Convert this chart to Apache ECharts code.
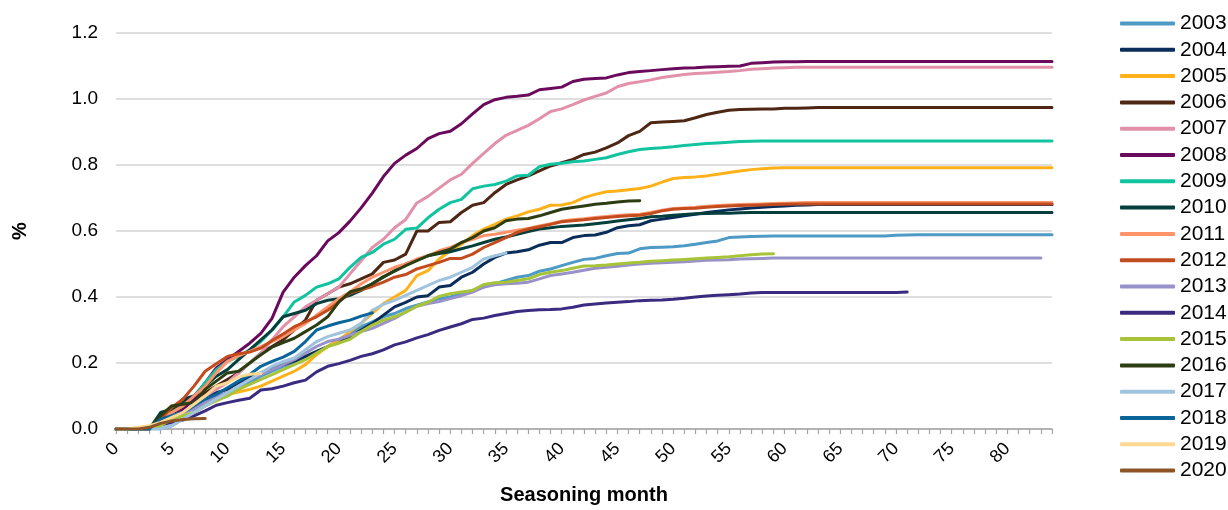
<!DOCTYPE html>
<html>
<head>
<meta charset="utf-8">
<script src="https://cdn.jsdelivr.net/npm/echarts@6/dist/echarts.min.js"></script>
<style>
html,body{margin:0;padding:0;background:#fff;}
#chart{width:1228px;height:510px;}
</style>
</head>
<body>
<div id="chart"></div>
<script>
var months = [0,1,2,3,4,5,6,7,8,9,10,11,12,13,14,15,16,17,18,19,20,21,22,23,24,25,26,27,28,29,30,31,32,33,34,35,36,37,38,39,40,41,42,43,44,45,46,47,48,49,50,51,52,53,54,55,56,57,58,59,60,61,62,63,64,65,66,67,68,69,70,71,72,73,74,75,76,77,78,79,80,81,82,83,84];
var yTicks = [0,0.2,0.4,0.6,0.8,1.0,1.2];
var years = ['2003','2004','2005','2006','2007','2008','2009','2010','2011','2012','2013','2014','2015','2016','2017','2018','2019','2020'];
var colors = ['#4E9AC6','#0A2D5A','#FFB119','#4D2614','#E191AA','#6A0A5C','#12C3A0','#053F3C','#FF936A','#C24C1E','#9891CA','#3A2A80','#A7C439','#2C3D12','#A0C4DE','#09659A','#FFD994','#8C5427'];

var v2003 = [0,0,0,0,0,0.01,0.03,0.05,0.07,0.09,
0.1,0.12,0.14,0.16,0.175,0.19,0.2,0.215,0.23,0.25,
0.27,0.29,0.31,0.325,0.34,0.35,0.365,0.375,0.385,0.395,
0.4,0.41,0.42,0.43,0.44,0.45,0.46,0.465,0.478,0.485,
0.495,0.505,0.514,0.517,0.525,0.532,0.533,0.546,0.55,0.551,
0.552,0.555,0.56,0.565,0.57,0.58,0.582,0.583,0.584,0.585,
0.585,0.585,0.585,0.585,0.585,0.585,0.585,0.585,0.585,0.585,
0.587,0.588,0.589,0.589,0.589,0.589,0.589,0.589,0.589,0.589,
0.589,0.589,0.589,0.589,0.589];
var v2004 = [0,0,0,0,0.04,0.06,0.09,0.1,0.1,0.11,
0.12,0.14,0.155,0.17,0.185,0.195,0.205,0.22,0.235,0.25,
0.265,0.28,0.3,0.32,0.345,0.37,0.384,0.4,0.404,0.43,
0.435,0.46,0.475,0.5,0.52,0.533,0.537,0.543,0.557,0.565,
0.565,0.58,0.586,0.588,0.596,0.61,0.616,0.619,0.631,0.636,
0.641,0.646,0.651,0.656,0.66,0.664,0.667,0.67,0.672,0.674,
0.676,0.678,0.679,0.68,0.68,0.68,0.68,0.68,0.68,0.68,
0.68,0.68,0.68,0.68,0.68,0.68,0.68,0.68,0.68,0.68,
0.68,0.68,0.68,0.68,0.68];
var v2005 = [0,0,0,0,0.04,0.07,0.07,0.08,0.09,0.1,
0.105,0.112,0.12,0.13,0.145,0.16,0.175,0.195,0.225,0.25,
0.27,0.295,0.32,0.35,0.38,0.4,0.42,0.465,0.48,0.515,
0.54,0.56,0.586,0.606,0.62,0.636,0.646,0.658,0.666,0.678,
0.679,0.686,0.701,0.711,0.719,0.721,0.725,0.729,0.736,0.748,
0.759,0.762,0.764,0.767,0.772,0.777,0.782,0.786,0.789,0.791,
0.792,0.792,0.792,0.792,0.792,0.792,0.792,0.792,0.792,0.792,
0.792,0.792,0.792,0.792,0.792,0.792,0.792,0.792,0.792,0.792,
0.792,0.792,0.792,0.792,0.792];
var v2006 = [0,0,0,0,0.03,0.05,0.07,0.09,0.11,0.13,
0.15,0.17,0.2,0.23,0.25,0.27,0.3,0.33,0.39,0.41,
0.43,0.44,0.455,0.47,0.505,0.512,0.53,0.6,0.6,0.626,
0.628,0.656,0.678,0.686,0.716,0.741,0.755,0.767,0.782,0.797,
0.807,0.817,0.832,0.839,0.852,0.867,0.889,0.902,0.928,0.93,
0.932,0.934,0.943,0.953,0.96,0.966,0.968,0.969,0.97,0.97,
0.972,0.972,0.973,0.974,0.974,0.974,0.974,0.974,0.974,0.974,
0.974,0.974,0.974,0.974,0.974,0.974,0.974,0.974,0.974,0.974,
0.974,0.974,0.974,0.974,0.974];
var v2007 = [0,0,0,0,0.02,0.04,0.06,0.08,0.1,0.12,
0.14,0.17,0.2,0.23,0.27,0.31,0.34,0.37,0.39,0.41,
0.43,0.47,0.51,0.55,0.575,0.61,0.635,0.685,0.705,0.73,
0.755,0.772,0.805,0.835,0.865,0.89,0.905,0.92,0.94,0.962,
0.97,0.983,0.997,1.008,1.018,1.037,1.047,1.052,1.058,1.065,
1.07,1.074,1.077,1.079,1.081,1.083,1.086,1.09,1.092,1.094,
1.095,1.096,1.096,1.096,1.096,1.096,1.096,1.096,1.096,1.096,
1.096,1.096,1.096,1.096,1.096,1.096,1.096,1.096,1.096,1.096,
1.096,1.096,1.096,1.096,1.096];
var v2008 = [0,0,0,0.005,0.02,0.04,0.06,0.09,0.14,0.185,
0.21,0.235,0.26,0.29,0.335,0.415,0.46,0.495,0.525,0.57,
0.595,0.63,0.67,0.715,0.765,0.805,0.83,0.85,0.88,0.895,
0.902,0.925,0.955,0.983,0.998,1.005,1.008,1.012,1.028,1.032,
1.036,1.053,1.06,1.062,1.064,1.073,1.08,1.083,1.086,1.089,
1.092,1.094,1.095,1.097,1.098,1.099,1.1,1.108,1.11,1.112,
1.113,1.113,1.114,1.114,1.114,1.114,1.114,1.114,1.114,1.114,
1.114,1.114,1.114,1.114,1.114,1.114,1.114,1.114,1.114,1.114,
1.114,1.114,1.114,1.114,1.114];
var v2009 = [0,0,0,0,0.03,0.05,0.07,0.1,0.14,0.18,
0.205,0.22,0.24,0.265,0.3,0.34,0.385,0.405,0.43,0.44,
0.455,0.49,0.52,0.535,0.56,0.575,0.605,0.609,0.64,0.666,
0.686,0.696,0.728,0.736,0.741,0.751,0.767,0.769,0.795,0.802,
0.805,0.81,0.812,0.817,0.822,0.832,0.84,0.847,0.85,0.852,
0.855,0.859,0.862,0.865,0.867,0.869,0.871,0.872,0.873,0.873,
0.873,0.873,0.873,0.873,0.873,0.873,0.873,0.873,0.873,0.873,
0.873,0.873,0.873,0.873,0.873,0.873,0.873,0.873,0.873,0.873,
0.873,0.873,0.873,0.873,0.873];
var v2010 = [0,0,0,0,0.05,0.06,0.08,0.1,0.13,0.16,
0.18,0.21,0.24,0.27,0.3,0.34,0.35,0.36,0.38,0.39,
0.395,0.405,0.42,0.44,0.46,0.48,0.5,0.512,0.525,0.532,
0.537,0.546,0.555,0.565,0.575,0.582,0.59,0.598,0.606,0.61,
0.614,0.616,0.618,0.622,0.626,0.63,0.634,0.638,0.643,0.645,
0.648,0.65,0.652,0.653,0.654,0.654,0.655,0.656,0.656,0.656,
0.656,0.656,0.656,0.656,0.656,0.656,0.656,0.656,0.656,0.656,
0.656,0.656,0.656,0.656,0.656,0.656,0.656,0.656,0.656,0.656,
0.656,0.656,0.656,0.656,0.656];
var v2011 = [0,0,0,0,0.03,0.05,0.07,0.1,0.13,0.17,
0.205,0.222,0.235,0.25,0.265,0.28,0.3,0.32,0.345,0.37,
0.395,0.415,0.44,0.46,0.475,0.49,0.5,0.515,0.525,0.54,
0.55,0.565,0.575,0.586,0.59,0.596,0.602,0.608,0.615,0.622,
0.63,0.634,0.637,0.641,0.644,0.647,0.649,0.651,0.656,0.663,
0.668,0.67,0.672,0.675,0.677,0.679,0.68,0.681,0.682,0.683,
0.684,0.685,0.686,0.686,0.686,0.686,0.686,0.686,0.686,0.686,
0.686,0.686,0.686,0.686,0.686,0.686,0.686,0.686,0.686,0.686,
0.686,0.686,0.686,0.686,0.686];
var v2012 = [0,0,0,0,0.03,0.065,0.09,0.13,0.175,0.198,
0.22,0.228,0.233,0.245,0.268,0.288,0.31,0.325,0.34,0.36,
0.385,0.412,0.422,0.432,0.445,0.46,0.468,0.485,0.495,0.505,
0.517,0.517,0.53,0.55,0.565,0.58,0.596,0.606,0.613,0.62,
0.628,0.631,0.634,0.638,0.641,0.644,0.646,0.648,0.653,0.661,
0.666,0.668,0.669,0.672,0.674,0.676,0.677,0.678,0.679,0.68,
0.681,0.682,0.682,0.682,0.682,0.682,0.682,0.682,0.682,0.682,
0.682,0.682,0.682,0.682,0.682,0.682,0.682,0.682,0.682,0.682,
0.682,0.682,0.682,0.682,0.682];
var v2013 = [0,0,0,0,0.02,0.04,0.05,0.06,0.08,0.1,
0.11,0.13,0.15,0.165,0.18,0.195,0.21,0.23,0.25,0.265,
0.272,0.284,0.295,0.305,0.32,0.335,0.355,0.372,0.38,0.386,
0.395,0.404,0.415,0.43,0.437,0.44,0.442,0.445,0.455,0.465,
0.47,0.475,0.481,0.487,0.49,0.493,0.497,0.5,0.502,0.504,
0.505,0.507,0.509,0.511,0.512,0.513,0.515,0.516,0.517,0.518,
0.518,0.518,0.518,0.518,0.518,0.518,0.518,0.518,0.518,0.518,
0.518,0.518,0.518,0.518,0.518,0.518,0.518,0.518,0.518,0.518,
0.518,0.518,0.518,0.518];
var v2014 = [0,0,0,0,0.012,0.02,0.027,0.04,0.055,0.072,
0.08,0.087,0.093,0.118,0.122,0.13,0.14,0.148,0.173,0.19,
0.198,0.208,0.22,0.228,0.24,0.255,0.264,0.276,0.286,0.299,
0.309,0.319,0.332,0.336,0.344,0.35,0.356,0.359,0.361,0.362,
0.364,0.369,0.376,0.379,0.382,0.384,0.386,0.389,0.39,0.391,
0.393,0.396,0.4,0.403,0.405,0.407,0.409,0.412,0.414,0.414,
0.414,0.414,0.414,0.414,0.414,0.414,0.414,0.414,0.414,0.414,
0.414,0.415];
var v2015 = [0,0,0,0,0.01,0.03,0.04,0.05,0.07,0.085,
0.1,0.12,0.135,0.15,0.165,0.18,0.195,0.21,0.23,0.25,
0.26,0.272,0.295,0.315,0.33,0.34,0.354,0.372,0.384,0.402,
0.41,0.415,0.42,0.438,0.443,0.445,0.45,0.455,0.468,0.475,
0.48,0.487,0.494,0.495,0.497,0.5,0.503,0.505,0.508,0.51,
0.512,0.514,0.516,0.518,0.52,0.522,0.525,0.528,0.53,0.531];
var v2016 = [0,0,0,0,0.04,0.07,0.075,0.08,0.12,0.145,
0.17,0.175,0.2,0.225,0.248,0.262,0.275,0.295,0.315,0.34,
0.385,0.415,0.425,0.44,0.462,0.478,0.495,0.51,0.525,0.535,
0.545,0.565,0.58,0.6,0.61,0.631,0.636,0.638,0.646,0.656,
0.666,0.671,0.676,0.681,0.684,0.688,0.691,0.692];
var v2017 = [0,0,0,0,0,0.01,0.03,0.05,0.07,0.09,
0.11,0.13,0.15,0.17,0.19,0.205,0.215,0.24,0.265,0.28,
0.29,0.3,0.32,0.36,0.378,0.39,0.405,0.42,0.435,0.45,
0.46,0.475,0.49,0.515,0.525,0.533];
var v2018 = [0,0,0,0,0.03,0.04,0.05,0.07,0.09,0.105,
0.125,0.145,0.165,0.19,0.205,0.218,0.235,0.265,0.3,0.312,
0.322,0.33,0.342,0.352];
var v2019 = [0,0,0.005,0.01,0.02,0.035,0.05,0.075,0.1,0.13,0.14,0.158,0.166,0.168];
var v2020 = [0,0,0,0.005,0.017,0.024,0.029,0.031,0.032];

var seriesValues = [v2003,v2004,v2005,v2006,v2007,v2008,v2009,v2010,v2011,v2012,v2013,v2014,v2015,v2016,v2017,v2018,v2019,v2020];

var FONT = '"Liberation Sans", Arial, sans-serif';
var chart = echarts.init(document.getElementById('chart'), null, {renderer: 'canvas'});
var series = years.map(function (y, i) {
  return {
    name: y,
    type: 'line',
    data: seriesValues[i],
    showSymbol: false,
    symbol: 'none',
    smooth: false,
    lineStyle: {width: 3, color: colors[i], cap: 'round', join: 'round'},
    itemStyle: {color: colors[i]},
    emphasis: {disabled: true},
    animation: false
  };
});
chart.setOption({
  animation: false,
  backgroundColor: '#ffffff',
  textStyle: {fontFamily: FONT},
  grid: {left: 116, right: 176, top: 33, bottom: 79, containLabel: false},
  legend: {
    orient: 'vertical',
    left: 1115,
    top: 8,
    itemWidth: 55,
    itemHeight: 4,
    itemGap: 5.3,
    icon: 'roundRect',
    data: years,
    textStyle: {fontSize: 21, lineHeight: 21, color: '#000', fontFamily: FONT}
  },
  xAxis: {
    type: 'category',
    data: months,
    boundaryGap: false,
    name: 'Seasoning month',
    nameLocation: 'middle',
    nameGap: 56,
    nameTextStyle: {fontSize: 20, fontWeight: 'bold', color: '#000', fontFamily: FONT},
    axisLine: {show: true, lineStyle: {color: '#a6a6a6', width: 1.5}},
    axisTick: {show: true, interval: 0, length: 5, lineStyle: {color: '#a6a6a6', width: 1.2}},
    axisLabel: {interval: 4, rotate: 45, fontSize: 18, color: '#000', margin: 17, fontFamily: FONT},
    splitLine: {show: false}
  },
  yAxis: {
    type: 'value',
    min: 0,
    max: 1.2,
    interval: 0.2,
    name: '%',
    nameLocation: 'middle',
    nameGap: 86,
    nameRotate: 90,
    nameTextStyle: {fontSize: 20, fontWeight: 'bold', color: '#000', fontFamily: FONT},
    axisLine: {show: false},
    axisTick: {show: false},
    axisLabel: {fontSize: 19, color: '#000', margin: 18, fontFamily: FONT,
      formatter: function (v) { return yTicks.indexOf(Math.round(v * 10) / 10) >= 0 ? v.toFixed(1) : ''; }},
    splitLine: {show: true, lineStyle: {color: '#d4d4d4', width: 1.5}}
  },
  series: series
});
</script>
</body>
</html>
